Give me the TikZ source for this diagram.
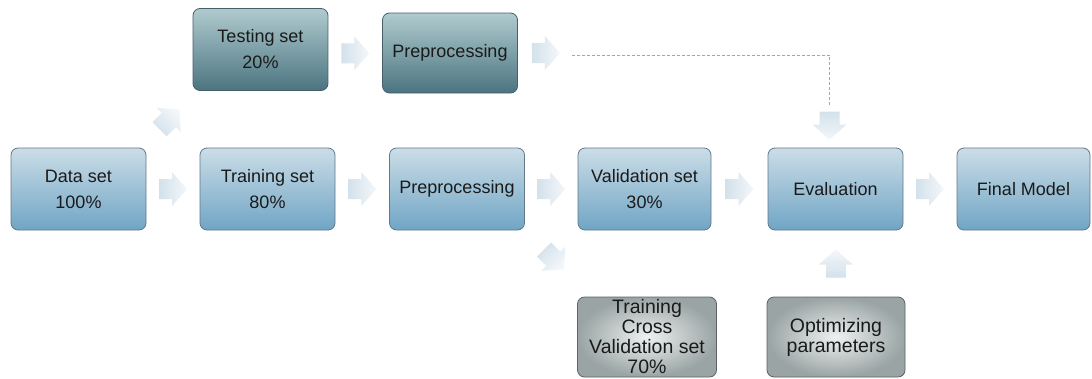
\documentclass[tikz,border=0pt]{standalone}
\usepackage{fontspec}
\setmainfont{Liberation Sans}
\usetikzlibrary{calc}

\definecolor{txt}{HTML}{1A1A1A}
\definecolor{mainTop}{HTML}{CBDDE7}
\definecolor{mainBot}{HTML}{70A5C5}
\definecolor{mainEdge}{HTML}{61798A}
\definecolor{darkTop}{HTML}{B0CBCF}
\definecolor{darkBot}{HTML}{4B7480}
\definecolor{darkEdge}{HTML}{46606A}
\definecolor{grayIn}{HTML}{EEF1F1}
\definecolor{grayOut}{HTML}{9AA4A4}
\definecolor{grayEdge}{HTML}{5A6464}
\definecolor{arrTail}{HTML}{D3E1EB}
\definecolor{arrHead}{HTML}{F4F7FA}
\definecolor{dashGray}{HTML}{A5A5A5}

\tikzset{
  % wide block arrow; argument = drawing direction in degrees (counter-clockwise)
  pics/blkarrow/.style={code={
    \pgfmathsetmacro\shang{#1-90}
    \shade[rotate=#1, top color=arrHead, bottom color=arrTail, shading angle=\shang]
      (-14,-10) -- (-1,-10) -- (-1,-17) -- (14,0) -- (-1,17) -- (-1,10) -- (-14,10) -- cycle;
  }},
  boxbase/.style={rounded corners=7pt, line width=0.8pt, inner sep=0pt,
    align=center, text=txt, font=\fontsize{18}{26}\selectfont,
    minimum width=135pt, minimum height=82pt},
  mainbox/.style={boxbase, draw=mainEdge, top color=mainTop, bottom color=mainBot},
  darkbox/.style={boxbase, draw=darkEdge, top color=darkTop, bottom color=darkBot},
  graybox/.style={boxbase, draw=grayEdge, inner color=grayIn, outer color=grayOut,
    minimum width=139pt, minimum height=80pt, font=\fontsize{19.5}{20}\selectfont},
  dashline/.style={draw=dashGray, line width=0.9pt, dash pattern=on 3pt off 2pt}
}

\begin{document}
\begin{tikzpicture}[x=1pt,y=-1pt]
\useasboundingbox (0,0) rectangle (1092,378);
\fill[white] (0,0) rectangle (1092,378);

% main row
\node[mainbox] (data)  at (78.5,189)  {Data set\\100\%};
\node[mainbox] (train) at (267.5,189) {Training set\\80\%};
\node[mainbox] (prep)  at (457,189)   {Preprocessing};
\node[mainbox, minimum width=133pt] (val) at (644.5,189) {Validation set\\30\%};
\node[mainbox] (eval)  at (835.5,189) {Evaluation};
\node[mainbox, minimum width=133pt] (final) at (1023.5,189) {Final Model};

% test branch
\node[darkbox] (test)  at (260.5,49.5) {Testing set\\20\%};
\node[darkbox, minimum height=80pt] (tprep) at (450,53) {Preprocessing};

% cross-validation branch
\node[graybox] (tcv) at (647,337) {Training\\Cross\\Validation set\\70\%};
\node[graybox, minimum width=138pt] (opt) at (836,337) {Optimizing\\parameters};

% block arrows between boxes
\pic at ($(data.east)!0.5!(train.west)$) {blkarrow=0};
\pic at ($(train.east)!0.5!(prep.west)$) {blkarrow=0};
\pic at ($(prep.east)!0.5!(val.west)$) {blkarrow=0};
\pic at ($(val.east)!0.5!(eval.west)$) {blkarrow=0};
\pic at ($(eval.east)!0.5!(final.west)$) {blkarrow=0};
\pic at ($(test.east)!0.5!(tprep.west)+(0,2)$) {blkarrow=0};
\pic at ($(tprep.east)+(28,0)$) {blkarrow=0};
\pic at ($(data.north east)!0.5!(test.south west)$) {blkarrow=45};
\pic at ($(prep.south east)!0.5!(tcv.north west)+(3,-4)$) {blkarrow=-45};
\pic at ($(eval.south)!0.5!(opt.north)$) {blkarrow=90};

% dashed link from the test preprocessing to the evaluation
\coordinate (dstart)  at ($(tprep.east)+(54,2)$);
\coordinate (darrow)  at ($(eval.north)+(-6,-22)$);
\coordinate (dend)    at ($(darrow)+(0,-20)$);
\draw[dashline] (dstart) -| (dend);
\pic at (darrow) {blkarrow=-90};
\end{tikzpicture}
\end{document}
